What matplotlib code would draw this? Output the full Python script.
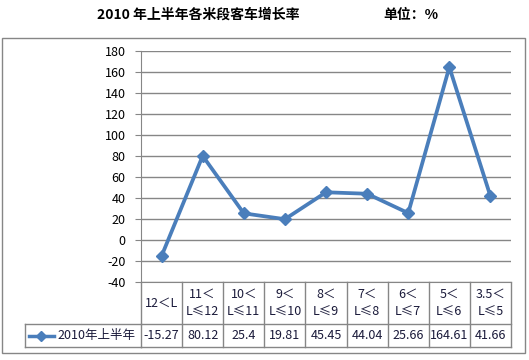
import matplotlib.pyplot as plt
import matplotlib.transforms as mtransforms
from matplotlib.patches import Rectangle
from matplotlib.lines import Line2D

plt.rcParams['font.family'] = ['Noto Sans CJK SC', 'DejaVu Sans']

categories = ["12＜L", "11＜\nL≤12", "10＜\nL≤11", "9＜\nL≤10", "8＜\nL≤9",
              "7＜\nL≤8", "6＜\nL≤7", "5＜\nL≤6", "3.5＜\nL≤5"]
values = [-15.27, 80.12, 25.4, 19.81, 45.45, 44.04, 25.66, 164.61, 41.66]
value_labels = ["-15.27", "80.12", "25.4", "19.81", "45.45", "44.04", "25.66", "164.61", "41.66"]
series_name = "2010年上半年"
yticks = list(range(-40, 181, 20))

W, H = 529, 360
fig = plt.figure(figsize=(W / 100, H / 100), dpi=100)

# outer chart frame
fig.add_artist(Rectangle((2 / W, (H - 353) / H), 523 / W, 315 / H,
                         transform=fig.transFigure, fill=False,
                         edgecolor='#868686', linewidth=1.0))

fig.text(198 / W, (H - 15) / H, "2010 年上半年各米段客车增长率", ha='center', va='center',
         fontsize=10, fontweight='bold')
fig.text(411 / W, (H - 15) / H, "单位：%", ha='center', va='center',
         fontsize=10, fontweight='bold')

left, right, top, bottom = 141, 511, 51, 282
ax = fig.add_axes([left / W, (H - bottom) / H, (right - left) / W, (bottom - top) / H])
x = list(range(len(values)))
ax.plot(x, values, color='#4A7EBB', linewidth=2.7, marker='D', markersize=6.5,
        markeredgecolor='#4A7EBB', zorder=3)
ax.set_xlim(-0.5, len(values) - 0.5)
ax.set_ylim(-40, 180)
ax.set_yticks(yticks)
ax.set_yticklabels([str(t) for t in yticks], fontsize=9)
ax.set_xticks([])
ax.grid(axis='y', color='#868686', linewidth=1.0)
ax.set_axisbelow(True)
for s in ['top', 'right']:
    ax.spines[s].set_visible(False)
ax.spines['left'].set_color('#868686')
ax.spines['bottom'].set_color('#868686')
ax.tick_params(axis='y', length=4, color='#868686', pad=7)

# data table below the axes
ah = bottom - top
r1 = -(324 - bottom) / ah
r2 = -(347 - bottom) / ah
trans = mtransforms.blended_transform_factory(ax.transData, ax.transAxes)
lc = '#868686'
n = len(values)
for i in range(n + 1):
    ax.add_line(Line2D([i - 0.5, i - 0.5], [0, r2], transform=trans, color=lc,
                       linewidth=1.0, clip_on=False))
ax.add_line(Line2D([-0.5, n - 0.5], [r1, r1], transform=trans, color=lc, linewidth=1.0, clip_on=False))
ax.add_line(Line2D([-0.5, n - 0.5], [r2, r2], transform=trans, color=lc, linewidth=1.0, clip_on=False))
for i, (c, v) in enumerate(zip(categories, value_labels)):
    ax.text(i, r1 / 2, c, transform=trans, ha='center', va='center', fontsize=9,
            linespacing=1.45, color='#1a1a3a')
    ax.text(i, (r1 + r2) / 2, v, transform=trans, ha='center', va='center', fontsize=9,
            color='#1a1a3a')

# legend cell on the left of the value row
lx0 = (25 - left) / (right - left)
ax.add_line(Line2D([lx0, 0], [r1, r1], transform=ax.transAxes, color=lc, linewidth=1.0, clip_on=False))
ax.add_line(Line2D([lx0, 0], [r2, r2], transform=ax.transAxes, color=lc, linewidth=1.0, clip_on=False))
ax.add_line(Line2D([lx0, lx0], [r1, r2], transform=ax.transAxes, color=lc, linewidth=1.0, clip_on=False))
mx0 = (29 - left) / (right - left)
mx1 = (54 - left) / (right - left)
ym = (r1 + r2) / 2
ax.add_line(Line2D([mx0, mx1], [ym, ym], transform=ax.transAxes, color='#4A7EBB',
                   linewidth=2.5, clip_on=False))
ax.add_line(Line2D([(mx0 + mx1) / 2], [ym], transform=ax.transAxes, color='#4A7EBB',
                   marker='D', markersize=5, clip_on=False))
ax.text((57 - left) / (right - left), ym, series_name, transform=ax.transAxes,
        ha='left', va='center', fontsize=9, color='#1a1a3a')

fig.savefig('out.png', dpi=100)
